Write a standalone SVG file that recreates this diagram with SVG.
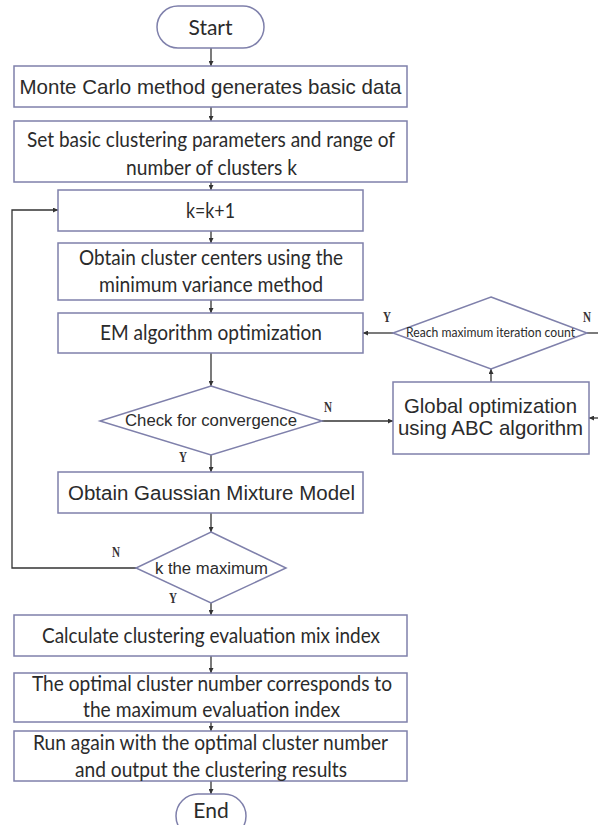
<svg xmlns="http://www.w3.org/2000/svg" width="598" height="825" viewBox="0 0 598 825">
<style>
.box{fill:#fff;stroke:#7f80ab;stroke-width:1.5}
.c{font-family:Lato,"Liberation Sans",sans-serif;fill:#2b2b2b;text-anchor:middle;font-size:21px}
.a{font-family:"Liberation Sans",Arial,sans-serif;fill:#2b2b2b;text-anchor:middle}
.yn{font-family:"Liberation Serif","DejaVu Serif",serif;font-weight:bold;font-size:15px;fill:#333;text-anchor:middle}
.ln{fill:none;stroke:#333;stroke-width:1.3}
</style>
<defs>
<marker id="ah" viewBox="0 0 6 6" refX="6" refY="3" markerWidth="5" markerHeight="5" markerUnits="userSpaceOnUse" orient="auto">
<path d="M0,0 L6,3 L0,6 z" fill="#333"/>
</marker>
</defs>
<g id="connectors">
<line class="ln" x1="211" y1="48" x2="211" y2="66" marker-end="url(#ah)"/>
<line class="ln" x1="211" y1="107" x2="211" y2="121" marker-end="url(#ah)"/>
<line class="ln" x1="211" y1="182" x2="211" y2="190" marker-end="url(#ah)"/>
<line class="ln" x1="211" y1="231" x2="211" y2="243" marker-end="url(#ah)"/>
<line class="ln" x1="211" y1="300" x2="211" y2="313" marker-end="url(#ah)"/>
<line class="ln" x1="211" y1="353" x2="211" y2="386" marker-end="url(#ah)"/>
<line class="ln" x1="211" y1="455" x2="211" y2="472" marker-end="url(#ah)"/>
<line class="ln" x1="211" y1="513" x2="211" y2="532" marker-end="url(#ah)"/>
<line class="ln" x1="211" y1="603" x2="211" y2="615" marker-end="url(#ah)"/>
<line class="ln" x1="211" y1="656" x2="211" y2="673" marker-end="url(#ah)"/>
<line class="ln" x1="211" y1="722" x2="211" y2="731" marker-end="url(#ah)"/>
<line class="ln" x1="211" y1="781" x2="211" y2="794" marker-end="url(#ah)"/>
<polyline class="ln" points="136,568 12,568 12,210 58,210" marker-end="url(#ah)"/>
<line class="ln" x1="322" y1="421" x2="393" y2="421" marker-end="url(#ah)"/>
<line class="ln" x1="491" y1="382" x2="491" y2="369" marker-end="url(#ah)"/>
<line class="ln" x1="393" y1="333" x2="363" y2="333" marker-end="url(#ah)"/>
<line class="ln" x1="587" y1="333" x2="598" y2="333"/>
<line class="ln" x1="598" y1="418" x2="589" y2="418" marker-end="url(#ah)"/>
<text class="yn" x="183" y="462" textLength="8" lengthAdjust="spacingAndGlyphs">Y</text>
<text class="yn" x="116" y="557" textLength="8" lengthAdjust="spacingAndGlyphs">N</text>
<text class="yn" x="173" y="603" textLength="8" lengthAdjust="spacingAndGlyphs">Y</text>
<text class="yn" x="328" y="412" textLength="8" lengthAdjust="spacingAndGlyphs">N</text>
<text class="yn" x="387" y="322" textLength="8" lengthAdjust="spacingAndGlyphs">Y</text>
<text class="yn" x="587" y="322" textLength="8" lengthAdjust="spacingAndGlyphs">N</text>
</g>
<g id="start">
<rect class="box" x="157" y="6" width="107" height="42" rx="21"/>
<text class="c" x="210.5" y="35">Start</text>
</g>
<g id="monte">
<rect class="box" x="14" y="66" width="393" height="41"/>
<text class="a" x="210.5" y="94" font-size="21" textLength="382" lengthAdjust="spacingAndGlyphs">Monte Carlo method generates basic data</text>
</g>
<g id="params">
<rect class="box" x="14" y="121" width="393" height="61"/>
<text class="c" x="211" y="147" textLength="368" lengthAdjust="spacingAndGlyphs">Set basic clustering parameters and range of</text>
<text class="c" x="211.5" y="175" textLength="171" lengthAdjust="spacingAndGlyphs">number of clusters k</text>
</g>
<g id="kinc">
<rect class="box" x="58" y="190" width="305" height="41"/>
<text class="c" x="210.5" y="218" textLength="49" lengthAdjust="spacingAndGlyphs">k=k+1</text>
</g>
<g id="centers">
<rect class="box" x="58" y="243" width="305" height="57"/>
<text class="c" x="211" y="265" textLength="264" lengthAdjust="spacingAndGlyphs">Obtain cluster centers using the</text>
<text class="c" x="211" y="292" textLength="224" lengthAdjust="spacingAndGlyphs">minimum variance method</text>
</g>
<g id="em">
<rect class="box" x="58" y="313" width="305" height="40"/>
<text class="c" x="211" y="340" textLength="222" lengthAdjust="spacingAndGlyphs">EM algorithm optimization</text>
</g>
<g id="converge">
<polygon class="box" points="211,386 322,421 211,455 100,421"/>
<text class="a" x="211" y="426" font-size="16" textLength="172" lengthAdjust="spacingAndGlyphs">Check for convergence</text>
</g>
<g id="gmm">
<rect class="box" x="58" y="472" width="305" height="41"/>
<text class="a" x="211.5" y="500" font-size="20" textLength="287" lengthAdjust="spacingAndGlyphs">Obtain Gaussian Mixture Model</text>
</g>
<g id="kmax">
<polygon class="box" points="211,532 286,568 211,603 136,568"/>
<text class="a" x="211.5" y="574" font-size="16" textLength="113" lengthAdjust="spacingAndGlyphs">k the maximum</text>
</g>
<g id="calc">
<rect class="box" x="14" y="615" width="393" height="41"/>
<text class="c" x="211" y="643" textLength="338" lengthAdjust="spacingAndGlyphs">Calculate clustering evaluation mix index</text>
</g>
<g id="optimal">
<rect class="box" x="14" y="673" width="393" height="49"/>
<text class="c" x="212" y="691" textLength="360" lengthAdjust="spacingAndGlyphs">The optimal cluster number corresponds to</text>
<text class="c" x="211.5" y="717" textLength="257" lengthAdjust="spacingAndGlyphs">the maximum evaluation index</text>
</g>
<g id="rerun">
<rect class="box" x="14" y="731" width="393" height="50"/>
<text class="c" x="210.5" y="750" textLength="355" lengthAdjust="spacingAndGlyphs">Run again with the optimal cluster number</text>
<text class="c" x="211" y="777" textLength="272" lengthAdjust="spacingAndGlyphs">and output the clustering results</text>
</g>
<g id="end">
<rect class="box" x="176" y="794" width="70" height="44" rx="22"/>
<text class="c" x="211" y="818">End</text>
</g>
<g id="abc">
<rect class="box" x="393" y="382" width="196" height="72"/>
<text class="a" x="490.5" y="413" font-size="21" textLength="173" lengthAdjust="spacingAndGlyphs">Global optimization</text>
<text class="a" x="490.5" y="435" font-size="21" textLength="185" lengthAdjust="spacingAndGlyphs">using ABC algorithm</text>
</g>
<g id="maxiter">
<polygon class="box" points="491,297 587,333 491,369 393,333"/>
<text class="c" x="490.5" y="337" style="font-size:13px" textLength="169" lengthAdjust="spacingAndGlyphs">Reach maximum iteration count</text>
</g>
</svg>
